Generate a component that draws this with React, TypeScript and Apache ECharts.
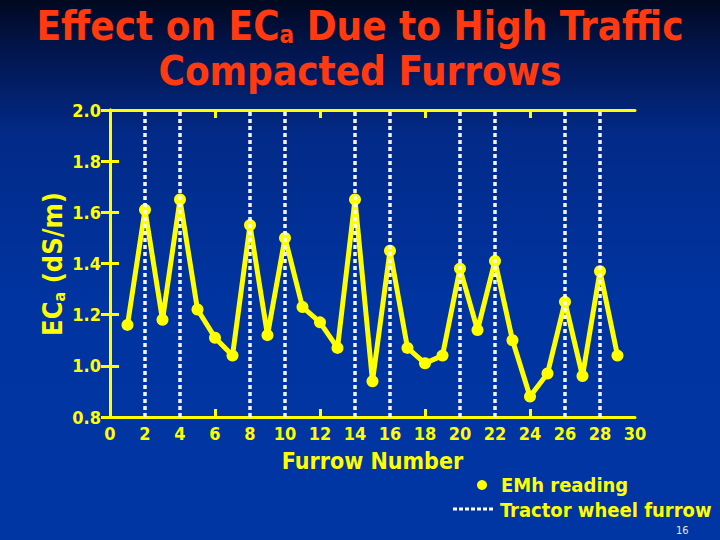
import React, { useEffect, useRef } from "react";
import * as echarts from "echarts";

const furrows = [1, 2, 3, 4, 5, 6, 7, 8, 9, 10, 11, 12, 13, 14, 15, 16, 17, 18, 19, 20, 21, 22, 23, 24, 25, 26, 27, 28, 29];
const ecaValues = [1.16, 1.61, 1.18, 1.65, 1.22, 1.11, 1.04, 1.55, 1.12, 1.5, 1.23, 1.17, 1.07, 1.65, 0.94, 1.45, 1.07, 1.01, 1.04, 1.38, 1.14, 1.41, 1.1, 0.88, 0.97, 1.25, 0.96, 1.37, 1.04];
const wheelFurrows = [2, 4, 8, 10, 14, 16, 20, 22, 26, 28];
const xLabelValues = [0, 2, 4, 6, 8, 10, 12, 14, 16, 18, 20, 22, 24, 26, 28, 30];
const xTickValues = [6, 12, 18, 24];

const FONT = '"DejaVu Sans Condensed", "DejaVu Sans", sans-serif';
const YEL = "#ffff00";
const RED = "#ff3a10";

export default function App() {
  const ref = useRef<HTMLDivElement>(null);
  useEffect(() => {
    document.body.style.margin = "0";
    const chart = echarts.init(ref.current!, null, { renderer: "svg" });
    const axisLine = { show: true, lineStyle: { color: YEL, width: 3 } };
    chart.setOption({
      animation: false,
      backgroundColor: new echarts.graphic.LinearGradient(0, 0, 0, 1, [
        { offset: 0, color: "#010820" },
        { offset: 0.1, color: "#021650" },
        { offset: 0.25, color: "#022a88" },
        { offset: 0.55, color: "#0034a0" },
        { offset: 1, color: "#0036a4" },
      ]),
      grid: { left: 110, right: 85, top: 110, bottom: 123, containLabel: false },
      xAxis: [
        {
          type: "value",
          min: 0,
          max: 30,
          interval: 2,
          position: "bottom",
          axisLine,
          splitLine: { show: false },
          axisTick: { show: true, inside: true, length: 8, customValues: xTickValues, lineStyle: { color: YEL, width: 3 } },
          axisLabel: {
            customValues: xLabelValues,
            color: YEL,
            fontFamily: FONT,
            fontWeight: "bold",
            fontSize: 18,
            margin: 7,
          },
          name: "Furrow Number",
          nameLocation: "middle",
          nameGap: 32,
          nameTextStyle: { color: YEL, fontFamily: FONT, fontWeight: "bold", fontSize: 23 },
        },
        {
          type: "value",
          min: 0,
          max: 30,
          interval: 2,
          position: "top",
          axisLine,
          splitLine: { show: false },
          axisTick: { show: true, inside: true, length: 8, customValues: xTickValues, lineStyle: { color: YEL, width: 3 } },
          axisLabel: { show: false },
        },
      ],
      yAxis: [
        {
          type: "value",
          min: 0.8,
          max: 2.0,
          interval: 0.2,
          position: "left",
          axisLine,
          splitLine: { show: false },
          axisTick: { show: true, inside: true, length: 9, lineStyle: { color: YEL, width: 3 } },
          axisLabel: {
            color: YEL,
            fontFamily: FONT,
            fontWeight: "bold",
            fontSize: 18,
            margin: 9,
            formatter: (v: number) => v.toFixed(1),
          },
        },
        {
          type: "value",
          min: 0.8,
          max: 2.0,
          interval: 0.2,
          position: "right",
          axisLine,
          splitLine: { show: false },
          axisTick: { show: true, inside: true, length: 9, lineStyle: { color: YEL, width: 3 } },
          axisLabel: { show: false },
        },
      ],
      series: [
        {
          type: "line",
          xAxisIndex: 0,
          yAxisIndex: 0,
          data: furrows.map((f, i) => [f, ecaValues[i]]),
          lineStyle: { color: YEL, width: 5 },
          itemStyle: { color: YEL },
          symbol: "circle",
          symbolSize: 12,
          z: 2,
          markLine: {
            silent: true,
            symbol: ["none", "none"],
            label: { show: false },
            lineStyle: { color: "#ffffff", type: [4, 3], width: 3.5, opacity: 0.95 },
            emphasis: { disabled: true },
            data: wheelFurrows.map((x) => ({ xAxis: x })),
          },
        },
      ],
      graphic: [
        {
          type: "text",
          left: "center",
          top: 6,
          style: {
            text: "{m|Effect on EC}{s|a}{m| Due to High Traffic}",
            fill: RED,
            rich: {
              m: { fontFamily: FONT, fontWeight: "bold", fontSize: 40, lineHeight: 42, fill: RED },
              s: { fontFamily: FONT, fontWeight: "bold", fontSize: 24, lineHeight: 16, verticalAlign: "bottom", fill: RED },
            },
          },
        },
        {
          type: "text",
          left: "center",
          top: 51,
          style: {
            text: "Compacted Furrows",
            fill: RED,
            fontFamily: FONT,
            fontWeight: "bold",
            fontSize: 40,
          },
        },
        {
          type: "text",
          x: 52,
          y: 264,
          rotation: Math.PI / 2,
          style: {
            text: "{m|EC}{s|a}{m| (dS/m)}",
            align: "center",
            verticalAlign: "middle",
            fill: YEL,
            rich: {
              m: { fontFamily: FONT, fontWeight: "bold", fontSize: 27, lineHeight: 30, fill: YEL },
              s: { fontFamily: FONT, fontWeight: "bold", fontSize: 16, lineHeight: 12, verticalAlign: "bottom", fill: YEL },
            },
          },
        },
        {
          type: "circle",
          shape: { cx: 482, cy: 485, r: 5 },
          style: { fill: YEL },
        },
        {
          type: "text",
          x: 501,
          y: 485,
          style: { text: "EMh reading", fill: YEL, fontFamily: FONT, fontWeight: "bold", fontSize: 20, verticalAlign: "middle" },
        },
        {
          type: "line",
          shape: { x1: 453, y1: 509, x2: 495, y2: 509 },
          style: { stroke: "#ffffff", lineWidth: 3, lineDash: [4, 2] },
        },
        {
          type: "text",
          x: 500,
          y: 510,
          style: { text: "Tractor wheel furrow", fill: YEL, fontFamily: FONT, fontWeight: "bold", fontSize: 20, verticalAlign: "middle" },
        },
        {
          type: "text",
          x: 676,
          y: 530,
          style: { text: "16", fill: "#e6e6c8", fontFamily: FONT, fontSize: 11, verticalAlign: "middle" },
        },
      ],
    });
    return () => chart.dispose();
  }, []);
  return <div ref={ref} style={{ position: "absolute", left: 0, top: 0, width: 720, height: 540 }} />;
}
